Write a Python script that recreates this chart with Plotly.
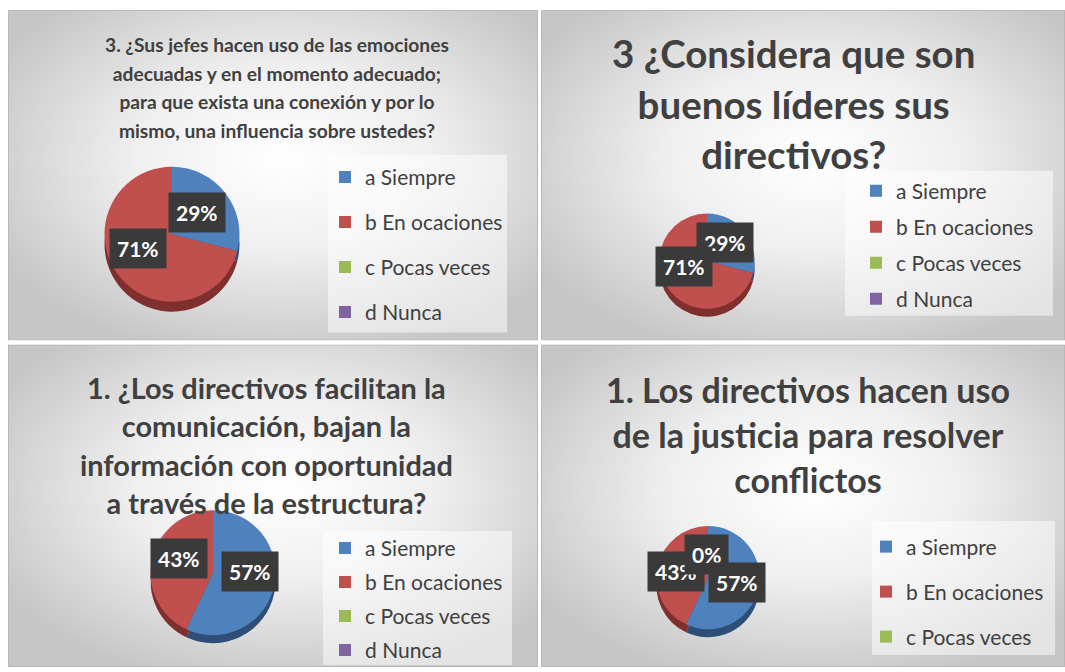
import base64
import plotly.graph_objects as go

W, H = 1065, 672

# ---------------- data ----------------
categories = ["a Siempre", "b En ocaciones", "c Pocas veces", "d Nunca"]
slice_colors = ["#4F81BD", "#C0504D", "#9BBB59", "#8064A2"]
edge_colors = ["#2E4E78", "#7F2F2D", "#627A36", "#4F3D66"]

# percentages
p1_values = [29, 71, 0, 0]
p2_values = [29, 71, 0, 0]
p3_values = [57, 43, 0, 0]
p4_values = [57, 43, 0]          # legend of this panel is cut after "c Pocas veces"

p1_title = ["3. ¿Sus jefes hacen uso de las emociones",
            "adecuadas y en el momento adecuado;",
            "para que exista una conexión y por lo",
            "mismo, una influencia sobre ustedes?"]
p2_title = ["3 ¿Considera que son", "buenos líderes sus", "directivos?"]
p3_title = ["1. ¿Los directivos facilitan la", "comunicación, bajan la",
            "información con oportunidad", "a través de la estructura?"]
p4_title = ["1. Los directivos hacen uso", "de la justicia para resolver", "conflictos"]

# ---------------- layout config (pixels) ----------------
panels = [
    dict(values=p1_values, title=p1_title, rect=(8, 10, 538, 343),
         pie=(172, 236, 68, 10),
         title_c=(277, 88.5), title_L=22, title_f=19.2,
         labels_order=[0, 1], label_pos={0: (197, 214), 1: (138, 250)},
         legend_box=(328, 156, 507, 335), legend_left=325, legend_first=178, legend_step=45),
    dict(values=p2_values, title=p2_title, rect=(541, 10, 1065, 343),
         pie=(707, 263, 48, 8),
         title_c=(793, 104.5), title_L=39, title_f=38.5,
         labels_order=[0, 1], label_pos={0: (725, 244), 1: (684, 269)},
         legend_box=(845, 172, 1053, 318), legend_left=856, legend_first=192, legend_step=36),
    dict(values=p3_values, title=p3_title, rect=(8, 347, 538, 672),
         pie=(213, 577, 63, 8),
         title_c=(266, 448), title_L=29.5, title_f=28.9,
         labels_order=[1, 0], label_pos={1: (179, 563), 0: (250, 576)},
         legend_box=(323, 535, 512, 670), legend_left=325, legend_first=552, legend_step=34),
    dict(values=p4_values, title=p4_title, rect=(541, 347, 1065, 672),
         pie=(708, 582, 52, 8),
         title_c=(808, 438), title_L=34.6, title_f=34,
         labels_order=[1, 2, 0], label_pos={1: (676, 576), 2: (706, 559), 0: (737, 587)},
         legend_box=(872, 525, 1055, 660), legend_left=866, legend_first=550.5, legend_step=45),
]

FONT = "Lato"
TEXT_COLOR = "#404040"
LEG_F = 21


def px(x):
    return x / W


def py(y):
    return 1 - y / H


def gradient_uri():
    svg = ("<svg xmlns='http://www.w3.org/2000/svg' width='530' height='333' "
           "viewBox='0 0 530 333' preserveAspectRatio='none'>"
           "<defs><radialGradient id='g' cx='52%' cy='45%' r='62%'>"
           "<stop offset='0' stop-color='#ffffff'/>"
           "<stop offset='0.45' stop-color='#efefef'/>"
           "<stop offset='1' stop-color='#c6c6c6'/>"
           "</radialGradient></defs>"
           "<rect x='0.5' y='0.5' width='529' height='332' fill='url(#g)' "
           "stroke='#b8b8b8' stroke-width='1'/></svg>")
    return "data:image/svg+xml;base64," + base64.b64encode(svg.encode()).decode()


fig = go.Figure()
images, shapes, annotations = [], [], []
uri = gradient_uri()

for k, p in enumerate(panels, start=1):
    vals = p["values"]
    cats = categories[:len(vals)]
    total = sum(vals)
    cx, cy, r, depth = p["pie"]
    leg_key = "legend" if k == 1 else f"legend{k}"

    # background panel
    x0, y0, x1, y1 = p["rect"]
    images.append(dict(source=uri, xref="paper", yref="paper", x=px(x0), y=py(y0),
                       sizex=(x1 - x0) / W, sizey=(y1 - y0) / H, xanchor="left",
                       yanchor="top", sizing="stretch", layer="below"))
    # legend box
    bx0, by0, bx1, by1 = p["legend_box"]
    shapes.append(dict(type="rect", xref="paper", yref="paper", x0=px(bx0), x1=px(bx1),
                       y0=py(by1), y1=py(by0), fillcolor="rgba(255,255,255,0.5)",
                       line=dict(width=0), layer="below"))

    # legend entry height = F*1.3 + 3  -> choose F to match spacing
    F = (p["legend_step"] - 3) / 1.3
    shift = 0.39 * F - 0.39 * LEG_F
    leg_labels = [f"<span style='font-size:{LEG_F}px;baseline-shift:{shift:.1f}px'>{c}</span>"
                  for c in cats]

    # 3D edge (darker copy shifted down)
    fig.add_trace(go.Pie(
        labels=leg_labels, values=vals, sort=False, direction="clockwise", rotation=0,
        marker=dict(colors=edge_colors[:len(vals)], line=dict(width=0)),
        textinfo="none", hoverinfo="skip", showlegend=False,
        domain=dict(x=[px(cx - r), px(cx + r)], y=[py(cy + depth + r), py(cy + depth - r)]),
    ))
    # main pie
    fig.add_trace(go.Pie(
        labels=leg_labels, values=vals, sort=False, direction="clockwise", rotation=0,
        marker=dict(colors=slice_colors[:len(vals)], line=dict(width=0)),
        textinfo="none", hovertemplate="%{label}: %{percent}<extra></extra>",
        legend=leg_key, legendgroup=f"g{k}",
        domain=dict(x=[px(cx - r), px(cx + r)], y=[py(cy + r), py(cy - r)]),
    ))

    top = p["legend_first"] - p["legend_step"] / 2 - 5
    fig.update_layout({leg_key: dict(
        x=px(p["legend_left"]), y=py(top), xanchor="left", yanchor="top",
        bgcolor="rgba(0,0,0,0)", borderwidth=0, itemwidth=30,
        font=dict(family=FONT, size=F, color=TEXT_COLOR))})

    # title
    tcx, tcy = p["title_c"]
    ttext = "<br>".join(f"<span style='font-size:{p['title_f']}px'>{ln}</span>" for ln in p["title"])
    annotations.append(dict(text=ttext, x=px(tcx), y=py(tcy), xref="paper", yref="paper",
                            xanchor="center", yanchor="middle", showarrow=False, align="center",
                            font=dict(family=FONT, size=p["title_L"], color=TEXT_COLOR, weight="bold")))

    # data labels
    for i in p["labels_order"]:
        lx, ly = p["label_pos"][i]
        annotations.append(dict(text=f"{vals[i] / total * 100:.0f}%", x=px(lx), y=py(ly),
                                xref="paper", yref="paper", xanchor="center", yanchor="middle",
                                showarrow=False, bgcolor="#3a3a3a", borderpad=7,
                                font=dict(family=FONT, size=21, color="white", weight="bold")))

fig.update_layout(
    width=W, height=H, autosize=False,
    margin=dict(l=0, r=0, t=0, b=0),
    paper_bgcolor="white", plot_bgcolor="white",
    images=images, shapes=shapes, annotations=annotations,
)

fig.write_html("out.html", config={"displayModeBar": False},
               post_script="document.body.style.margin='0px';")
